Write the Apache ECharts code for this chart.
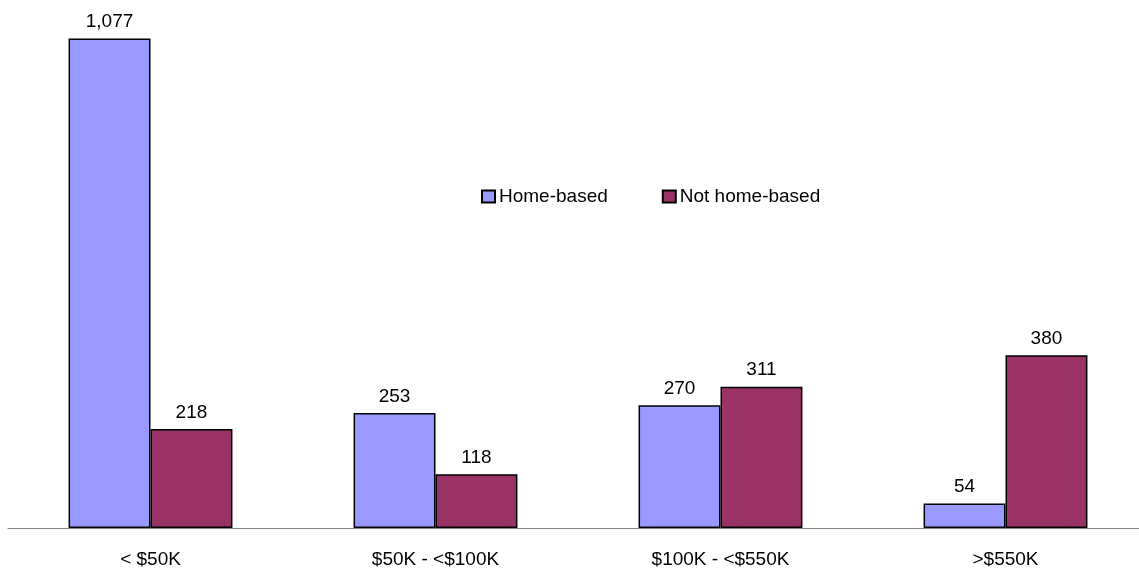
<!DOCTYPE html>
<html>
<head>
<meta charset="utf-8">
<script src="https://cdn.jsdelivr.net/npm/echarts@6/dist/echarts.min.js"></script>
<style>
  html, body { margin: 0; padding: 0; background: #fff; overflow: hidden; }
  #chart { width: 1148px; height: 569px; }
</style>
</head>
<body>
<div id="chart"></div>
<script>
var categories = ['< $50K', '$50K - <$100K', '$100K - <$550K', '>$550K']
var homeBased = [1077, 253, 270, 54]
var notHomeBased = [218, 118, 311, 380]

var chart = echarts.init(document.getElementById('chart'))

var font = 'Liberation Sans, Arial, sans-serif'

var labelStyle = {
  show: true,
  position: 'top',
  distance: 7,
  color: '#000',
  fontFamily: font,
  fontSize: 19,
  formatter: function (p) { return p.value.toLocaleString('en-US') }
}

chart.setOption({
  animation: false,
  grid: {
    left: 8,
    right: 0,
    top: 28,
    bottom: 41,
    containLabel: false
  },
  legend: {
    left: 481,
    top: 187,
    padding: 0,
    itemWidth: 13,
    itemHeight: 12,
    itemGap: 54,
    icon: 'rect',
    textStyle: {
      color: '#000',
      fontFamily: font,
      fontSize: 19,
      padding: [0, 0, 0, -1]
    },
    data: ['Home-based', 'Not home-based']
  },
  xAxis: {
    type: 'category',
    data: categories,
    axisLine: { lineStyle: { color: '#808080', width: 1 } },
    axisTick: { show: false },
    axisLabel: {
      color: '#000',
      fontFamily: font,
      fontSize: 19,
      margin: 22
    }
  },
  yAxis: {
    type: 'value',
    min: 0,
    max: 1100,
    show: false,
    splitLine: { show: false }
  },
  series: [
    {
      name: 'Home-based',
      type: 'bar',
      data: homeBased,
      barGap: '0%',
      barCategoryGap: '42.5%',
      itemStyle: { color: '#9999FF', borderColor: '#000', borderWidth: 1.5 },
      label: labelStyle
    },
    {
      name: 'Not home-based',
      type: 'bar',
      data: notHomeBased,
      itemStyle: { color: '#993366', borderColor: '#000', borderWidth: 1.5 },
      label: labelStyle
    }
  ]
})
</script>
</body>
</html>
